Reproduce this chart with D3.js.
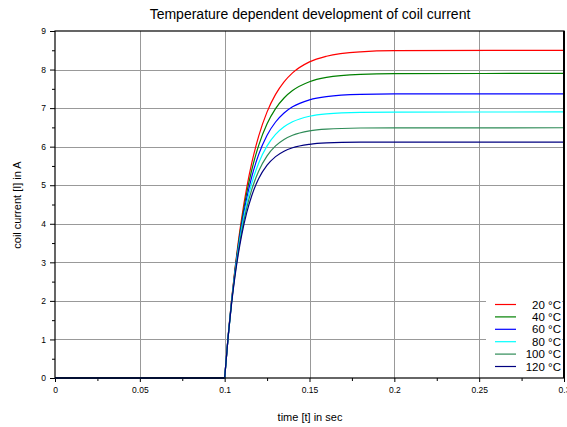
<!DOCTYPE html>
<html><head><meta charset="utf-8">
<script src="https://cdn.jsdelivr.net/npm/d3@7"></script>
<style>body{margin:0;background:#fff}svg{display:block;font-family:"Liberation Sans",Arial,sans-serif}</style>
</head><body><svg id="c" width="567" height="427"></svg>
<script>
const title = "Temperature dependent development of coil current";
const xLabel = "time [t] in sec";
const yLabel = "coil current [I] in A";
const seriesNames = ["20 °C","40 °C","60 °C","80 °C","100 °C","120 °C"];
const seriesColors = ["#ff0000","#008000","#0000ff","#00ffff","#2e8b57","#000080"];
const xTicks = [0,0.05,0.1,0.15,0.2,0.25,0.3];
const yTicks = [0,1,2,3,4,5,6,7,8,9];
const time = [0,0.1,0.102,0.104,0.106,0.108,0.11,0.113,0.116,0.12,0.125,0.13,0.135,0.14,0.15,0.16,0.18,0.2,0.3];
const i20  = [0,0,1.063,1.994,2.808,3.521,4.144,4.935,5.583,6.267,6.902,7.356,7.681,7.914,8.199,8.346,8.460,8.489,8.5];
const i40  = [0,0,1.059,1.976,2.770,3.457,4.052,4.799,5.401,6.026,6.593,6.988,7.263,7.455,7.684,7.795,7.875,7.894,7.9];
const i60  = [0,0,1.053,1.956,2.730,3.392,3.961,4.665,5.224,5.793,6.298,6.640,6.874,7.033,7.214,7.298,7.355,7.367,7.37];
const i80  = [0,0,1.048,1.937,2.691,3.330,3.872,4.535,5.053,5.572,6.020,6.317,6.514,6.644,6.788,6.851,6.891,6.898,6.9];
const i100 = [0,0,1.042,1.918,2.652,3.269,3.786,4.411,4.892,5.364,5.763,6.021,6.188,6.295,6.409,6.456,6.484,6.489,6.49];
const i120 = [0,0,1.037,1.898,2.614,3.208,3.702,4.290,4.734,5.165,5.519,5.742,5.883,5.971,6.061,6.097,6.116,6.119,6.12];
const seriesValues = [i20,i40,i60,i80,i100,i120];

const FONT = "'Liberation Sans',Arial,sans-serif";
const svg = d3.select("#c");
const L=55, R=564, T=31, B=378;
const x = d3.scaleLinear().domain([0,0.3]).range([L,R]);
const y = d3.scaleLinear().domain([0,9]).range([B,T]);

// grid
const g = svg.append("g");
g.selectAll(".vg").data(xTicks.slice(1,-1)).join("line")
 .attr("x1",d=>Math.round(x(d))+0.5).attr("x2",d=>Math.round(x(d))+0.5).attr("y1",T).attr("y2",B)
 .attr("stroke","#999").attr("stroke-width",1);
g.selectAll(".hg").data(yTicks.slice(1,-1)).join("line")
 .attr("y1",d=>Math.round(y(d))+0.5).attr("y2",d=>Math.round(y(d))+0.5).attr("x1",L).attr("x2",R)
 .attr("stroke","#999").attr("stroke-width",1);

// axes
const fmt = d=>String(d);
const xAxis = d3.axisBottom(x).tickValues(xTicks).tickSize(4).tickPadding(5).tickFormat(fmt);
const xMinor = d3.axisBottom(x).tickValues(d3.range(0.025,0.3,0.05)).tickSize(3).tickFormat("");
const yAxis = d3.axisLeft(y).tickValues(yTicks).tickSize(5).tickPadding(4).tickFormat(fmt);
const yMinor = d3.axisLeft(y).tickValues(d3.range(0.5,9,1)).tickSize(3).tickFormat("");
function style(sel){sel.select(".domain").remove();sel.selectAll("line").attr("stroke","#000");sel.selectAll("text").attr("font-size",8.5).attr("fill","#000").attr("font-family",FONT);}
svg.append("g").attr("transform",`translate(0,${B})`).call(xAxis).call(style);
svg.append("g").attr("transform",`translate(0,${B})`).call(xMinor).call(style);
svg.append("g").attr("transform",`translate(${L},0)`).call(yAxis).call(style);
svg.append("g").attr("transform",`translate(${L},0)`).call(yMinor).call(style);

// lines: flat part straight, rising part smooth
const flat = d3.line().x(d=>x(d[0])).y(d=>y(d[1]));
const rise = d3.line().x(d=>x(d[0])).y(d=>y(d[1])).curve(d3.curveMonotoneX);
const lg0 = svg.append("g");
seriesValues.forEach((vals,i)=>{
  const pts = vals.map((v,j)=>[time[j],v]);
  lg0.append("path").attr("d",rise(pts.slice(1))).attr("fill","none").attr("stroke",seriesColors[i]).attr("stroke-width",1.2);
});
seriesValues.forEach((vals,i)=>{
  const pts = vals.map((v,j)=>[time[j],v]);
  lg0.append("path").attr("d",flat(pts.slice(0,2))).attr("fill","none").attr("stroke",seriesColors[i]).attr("stroke-width",1.6);
});

// frame
svg.append("rect").attr("x",L).attr("y",T).attr("width",R-L).attr("height",B-T).attr("fill","none").attr("stroke","#000").attr("stroke-width",1.2);
svg.append("line").attr("x1",R).attr("x2",R).attr("y1",T).attr("y2",B).attr("stroke","#000").attr("stroke-width",2);

// legend
const lg = svg.append("g");
lg.append("rect").attr("x",486).attr("y",296).attr("width",76).attr("height",80).attr("fill","#fff");
const rowY = d3.scaleLinear().domain([0,5]).range([304.5,366.5]);
seriesNames.forEach((n,i)=>{
  lg.append("line").attr("x1",495).attr("x2",516).attr("y1",rowY(i)).attr("y2",rowY(i)).attr("stroke",seriesColors[i]).attr("stroke-width",1.2);
  lg.append("text").attr("x",561).attr("y",rowY(i)+4).attr("text-anchor","end").attr("font-size",11.5).attr("font-family",FONT).text(n);
});

// titles
svg.append("text").attr("x",310).attr("y",19).attr("text-anchor","middle").attr("font-size",14).attr("font-family",FONT).text(title);
svg.append("text").attr("x",310).attr("y",421).attr("text-anchor","middle").attr("font-size",11).attr("font-family",FONT).text(xLabel);
svg.append("text").attr("transform","translate(21,205) rotate(-90)").attr("text-anchor","middle").attr("font-size",11).attr("font-family",FONT).text(yLabel);
</script></body></html>
